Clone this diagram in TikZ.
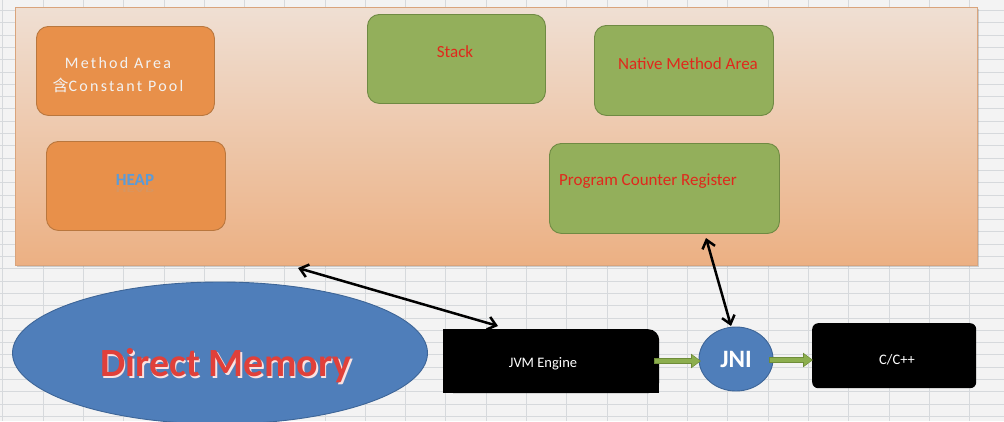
\documentclass[tikz,border=0pt]{standalone}
\usepackage{fontspec}
\setmainfont{Carlito}
\newfontfamily\cjk{Noto Sans CJK SC}
\usetikzlibrary{shapes.geometric,arrows.meta,shadows,calc}
\definecolor{gridbg}{HTML}{F3F3F3}
\definecolor{gridln}{HTML}{D6D9DC}
\definecolor{paneltop}{HTML}{EFDFD3}
\definecolor{panelbot}{HTML}{ECB083}
\definecolor{panelbd}{HTML}{D9A47C}
\definecolor{orfill}{HTML}{E8904A}
\definecolor{orbd}{HTML}{B9773E}
\definecolor{grfill}{HTML}{93AF5B}
\definecolor{grbd}{HTML}{6F8A43}
\definecolor{redtxt}{HTML}{E0281C}
\definecolor{bluefill}{HTML}{4F7EBA}
\definecolor{bluebd}{HTML}{3D6597}
\definecolor{heapblue}{HTML}{5B9BD8}
\definecolor{arrgreen}{HTML}{8CAE4E}
\definecolor{arrgreenbd}{HTML}{6E8C38}
\definecolor{dmred}{HTML}{E0403A}
\tikzset{
  orbox/.style={draw=orbd, line width=0.9pt, fill=orfill, rounded corners=12pt, anchor=north west},
  grbox/.style={draw=grbd, line width=0.9pt, fill=grfill, rounded corners=12pt, anchor=north west},
  redlabel/.style={text=redtxt, font=\fontsize{17}{20}\selectfont},
  blkarrow/.style={line width=2.5pt, black, {Straight Barb[length=8pt,width=13pt]}-{Straight Barb[length=8pt,width=13pt]}},
  grnarrowbd/.style={line width=6pt, arrgreenbd, -{Triangle[length=10pt,width=14pt]}},
  grnarrow/.style={line width=4.2pt, arrgreen, -{Triangle[length=8pt,width=11pt]}},
  blkbox/.style={fill=black, anchor=north west, inner sep=0pt}
}
\begin{document}
\begin{tikzpicture}[x=1pt,y=-1pt]
\useasboundingbox (0,0) rectangle (1004,421);
% spreadsheet background
\fill[gridbg] (0,0) rectangle (1004,421);
\foreach \i in {0,...,24} {
  \draw[gridln, line width=0.6pt] ({2.7+40.28*\i},0) -- ({2.7+40.28*\i},421);
}
\foreach \j in {-20,...,15} {
  \draw[gridln, line width=0.6pt] (0,{244+12.3*\j}) -- (1004,{244+12.3*\j});
}
% JVM panel
\node[anchor=north west, draw=panelbd, line width=0.6pt, top color=paneltop, bottom color=panelbot,
      minimum width=962pt, minimum height=258pt, inner sep=0pt,
      drop shadow={shadow xshift=1.5pt, shadow yshift=-1.5pt, opacity=.35}] (panel) at (15,7) {};
% orange boxes
\node[orbox, minimum width=178pt, minimum height=89pt] (method) at (36,26) {};
\node[text=gray!10, font=\fontsize{16}{23}\selectfont\addfontfeature{LetterSpace=14}, align=center] (methodtxt) at (118,75)
  {Method Area\\{\cjk 含}Constant Pool};
\node[orbox, minimum width=179pt, minimum height=89pt] (heap) at (46,141) {};
\node[text=gray!70, opacity=.25, font=\bfseries\fontsize{17}{19}\selectfont, yscale=-0.45] (heapref) at (135,190) {HEAP};
\node[text=heapblue, font=\bfseries\fontsize{17}{19}\selectfont] (heaptxt) at (135,180) {HEAP};
% green boxes
\node[grbox, minimum width=178pt, minimum height=89pt] (stack) at (367,14) {};
\node[redlabel] (stacktxt) at (455,52) {Stack};
\node[grbox, minimum width=179pt, minimum height=90pt] (native) at (594,25) {};
\node[redlabel] (nativetxt) at (688,64) {Native Method Area};
\node[grbox, minimum width=230pt, minimum height=90pt] (pcr) at (549,143) {};
\node[redlabel] (pcrtxt) at (648,181) {Program Counter Register};
% Direct memory
\node[ellipse, draw=bluebd, line width=0.9pt, fill=bluefill, minimum width=415pt, minimum height=142pt, inner sep=0pt] (dm) at (220,353) {};
\node[text=white!85!dmred, font=\bfseries\fontsize{40}{44}\selectfont] (dmshadow) at (227.5,367.5) {Direct Memory};
\node[text=dmred, font=\bfseries\fontsize{40}{44}\selectfont] (dmtxt) at (226,366) {Direct Memory};
% JVM engine
\node[blkbox, rounded corners=11pt, minimum width=216pt, minimum height=64pt] (jvm) at (443,329) {};
\fill[black] (jvm.north west) rectangle (jvm.south);
\fill[black] (jvm.west) rectangle (jvm.south east);
\node[text=white, font=\fontsize{14.5}{16}\selectfont] (jvmtxt) at (543,364) {JVM Engine};
% JNI
\node[ellipse, draw=bluebd, line width=0.9pt, fill=bluefill, minimum width=74pt, minimum height=64pt, inner sep=0pt,
      text=white, font=\bfseries\fontsize{25}{27}\selectfont] (jni) at (736,359) {JNI};
% C/C++
\node[blkbox, rounded corners=6pt, minimum width=164pt, minimum height=65pt] (cpp) at (812,323) {};
\node[text=white, font=\fontsize{14.5}{16}\selectfont] (cpptxt) at (897,360) {C/C++};
% connectors
\coordinate (pa) at (298,268);
\coordinate (jvmtop) at (498,326);
\coordinate (pcrbot) at (706,238);
\coordinate (jnitop) at (731,326);
\coordinate (g1s) at (654,361);
\coordinate (g1e) at (701,361);
\coordinate (g2s) at (769,360);
\coordinate (g2e) at (813,360);
\draw[blkarrow] (pa) -- (jvmtop);
\draw[blkarrow] (pcrbot) -- (jnitop);
\draw[grnarrowbd] (g1s) -- (g1e);
\draw[grnarrow] ([xshift=0.8pt]g1s) -- ([xshift=-1pt]g1e);
\draw[grnarrowbd] (g2s) -- (g2e);
\draw[grnarrow] ([xshift=0.8pt]g2s) -- ([xshift=-1pt]g2e);
\end{tikzpicture}
\end{document}
